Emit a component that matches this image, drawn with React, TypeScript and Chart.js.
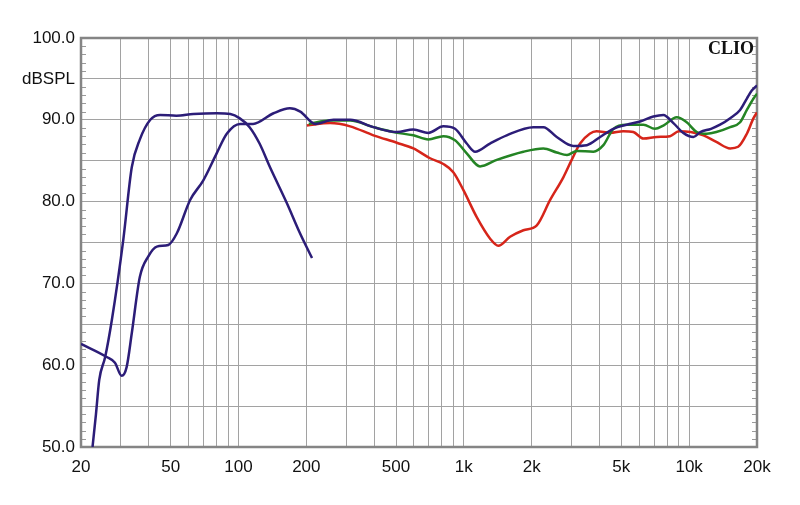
import React, { useEffect, useRef } from "react";
import { Chart, registerables } from "chart.js";

Chart.register(...registerables);

// Navy curve A (full range system response)
const navyAFreq = [20, 26, 28.3, 30.3, 31.9, 33.6, 36.5, 39.8, 43.4, 48.8, 53.2, 61, 69.8, 80, 88.7, 101.6, 116, 143, 169, 188, 219, 264, 313, 397, 504, 597, 696, 811, 914, 1030, 1122, 1306, 1550, 2036, 2254, 2584, 3062, 3514, 4028, 4612, 5284, 6058, 6934, 7684, 8512, 9420, 10448, 11200, 12500, 13710, 15206, 16828, 18032, 19000, 20000];
const navyADb = [62.6, 61.0, 60.3, 58.7, 59.8, 63.9, 70.8, 73.3, 74.5, 74.7, 76.1, 80.2, 82.6, 85.9, 88.3, 89.5, 89.5, 90.8, 91.4, 91.0, 89.5, 90.0, 90.0, 89.1, 88.5, 88.8, 88.4, 89.2, 88.9, 87.1, 86.1, 87.1, 88.1, 89.1, 89.1, 87.9, 86.8, 86.9, 87.9, 88.9, 89.4, 89.8, 90.4, 90.6, 89.6, 88.4, 87.9, 88.5, 88.9, 89.4, 90.2, 91.2, 92.6, 93.6, 94.2];

// Navy curve B (woofer, low range)
const navyBFreq = [22.5, 23.3, 24.1, 25.6, 27.4, 30.8, 33.6, 36.5, 40.6, 44.9, 53, 63, 80, 92, 101, 112, 124, 138, 164, 187, 212];
const navyBDb = [50.0, 54.0, 58.2, 61.0, 65.5, 75.3, 84.2, 87.6, 90.0, 90.6, 90.5, 90.7, 90.8, 90.7, 90.2, 89.1, 87.1, 84.2, 79.8, 76.2, 73.1];

// Green curve
const greenFreq = [205, 255, 313, 397, 486, 597, 696, 811, 914, 1030, 1180, 1400, 1838, 2254, 2584, 2870, 3180, 3758, 4162, 4612, 5284, 6266, 7050, 7684, 8812, 9750, 10816, 11968, 13200, 15206, 16828, 18032, 19300, 20000];
const greenDb = [89.5, 89.9, 89.9, 89.1, 88.5, 88.1, 87.6, 88.0, 87.5, 85.9, 84.3, 85.1, 86.1, 86.5, 86.0, 85.7, 86.2, 86.1, 86.9, 88.9, 89.4, 89.4, 88.9, 89.3, 90.3, 89.7, 88.5, 88.3, 88.5, 89.1, 89.7, 91.2, 92.6, 93.2];

// Red curve
const redFreq = [201, 255, 313, 397, 504, 597, 708, 811, 898, 996, 1141, 1306, 1422, 1604, 1838, 2108, 2416, 2768, 3010, 3280, 3620, 3880, 4460, 5100, 5652, 6266, 7180, 8222, 9000, 10150, 11570, 13200, 15206, 16500, 18032, 19300, 20000];
const redDb = [89.3, 89.6, 89.2, 88.1, 87.2, 86.5, 85.3, 84.6, 83.6, 81.4, 78.1, 75.5, 74.6, 75.7, 76.5, 77.1, 80.2, 83.0, 85.1, 87.1, 88.3, 88.6, 88.4, 88.6, 88.5, 87.7, 87.9, 88.0, 88.6, 88.5, 88.1, 87.3, 86.5, 86.7, 88.3, 90.2, 90.9];

// Axis grid / labels
const xGridValues = [20, 30, 40, 50, 60, 70, 80, 90, 100, 200, 300, 400, 500, 600, 700, 800, 900, 1000, 2000, 3000, 4000, 5000, 6000, 7000, 8000, 9000, 10000, 20000];
const xLabelValues = [20, 50, 100, 200, 500, 1000, 2000, 5000, 10000, 20000];
const xLabelTexts = ["20", "50", "100", "200", "500", "1k", "2k", "5k", "10k", "20k"];
const yLabelValues = [100, 95, 90, 80, 70, 60, 50];
const yLabelTexts = ["100.0", "dBSPL", "90.0", "80.0", "70.0", "60.0", "50.0"];

const toPts = (fs: number[], ds: number[]) => fs.map((f, i) => ({ x: f, y: ds[i] }));

const framePlugin = {
  id: "clioFrame",
  beforeDatasetsDraw(chart: any) {
    const { ctx, chartArea, scales } = chart;
    const { left, right, top, bottom } = chartArea;
    const y = scales.y;
    ctx.save();
    ctx.strokeStyle = "#9a9a9a";
    ctx.lineWidth = 1;
    for (let v = 51; v < 100; v++) {
      if (v % 5 === 0) continue;
      const py = Math.round(y.getPixelForValue(v)) + 0.5;
      ctx.beginPath();
      ctx.moveTo(left, py);
      ctx.lineTo(left + 5, py);
      ctx.moveTo(right - 5, py);
      ctx.lineTo(right, py);
      ctx.stroke();
    }
    ctx.strokeStyle = "#858585";
    ctx.lineWidth = 2.5;
    ctx.strokeRect(left, top, right - left, bottom - top);
    ctx.restore();
  },
  afterDraw(chart: any) {
    const { ctx, chartArea } = chart;
    ctx.save();
    ctx.font = 'bold 18px "Liberation Serif"';
    ctx.fillStyle = "#111111";
    ctx.textAlign = "right";
    ctx.textBaseline = "alphabetic";
    ctx.fillText("CLIO", chartArea.right - 3, chartArea.top + 16);
    ctx.restore();
  },
};

export default function App() {
  const ref = useRef<HTMLCanvasElement | null>(null);
  useEffect(() => {
    document.body.style.margin = "0";
    const canvas = ref.current;
    if (!canvas) return;
    const lineDs = (label: string, pts: any[], color: string) => ({
      label,
      data: pts,
      showLine: true,
      borderColor: color,
      backgroundColor: color,
      borderWidth: 2.5,
      pointRadius: 0,
      cubicInterpolationMode: "monotone" as const,
      fill: false,
    });
    const chart = new Chart(canvas, {
      type: "scatter",
      data: {
        datasets: [
          lineDs("A", toPts(navyAFreq, navyADb), "#2c1d78"),
          lineDs("B", toPts(navyBFreq, navyBDb), "#2c1d78"),
          lineDs("G", toPts(greenFreq, greenDb), "#248424"),
          lineDs("R", toPts(redFreq, redDb), "#d6251a"),
        ],
      },
      options: {
        animation: false,
        responsive: true,
        maintainAspectRatio: false,
        layout: { padding: { top: 38, right: 43, left: 0, bottom: 0 } },
        plugins: { legend: { display: false }, tooltip: { enabled: false } },
        scales: {
          x: {
            type: "logarithmic",
            min: 20,
            max: 20000,
            afterBuildTicks: (s: any) => {
              s.ticks = xGridValues.map((v) => ({ value: v }));
            },
            afterFit: (s: any) => {
              s.height = 58;
            },
            ticks: {
              autoSkip: false,
              maxRotation: 0,
              minRotation: 0,
              padding: 10,
              color: "#111111",
              font: { family: '"Liberation Sans", Arial', size: 17 },
              callback: (v: any) => {
                const i = xLabelValues.indexOf(Number(v));
                return i >= 0 ? xLabelTexts[i] : "";
              },
            },
            grid: { color: "#a2a2a2", lineWidth: 1, drawTicks: false },
            border: { display: false },
          },
          y: {
            min: 50,
            max: 100,
            afterFit: (s: any) => {
              s.width = 81;
            },
            ticks: {
              stepSize: 5,
              padding: 6,
              color: "#111111",
              font: { family: '"Liberation Sans", Arial', size: 17 },
              callback: (v: any) => {
                const i = yLabelValues.indexOf(Number(v));
                return i >= 0 ? yLabelTexts[i] : "";
              },
            },
            grid: { color: "#a2a2a2", lineWidth: 1, drawTicks: false },
            border: { display: false },
          },
        },
      },
      plugins: [framePlugin],
    });
    return () => chart.destroy();
  }, []);
  return (
    <div style={{ width: 800, height: 505, position: "relative", background: "#ffffff" }}>
      <canvas ref={ref} />
    </div>
  );
}
